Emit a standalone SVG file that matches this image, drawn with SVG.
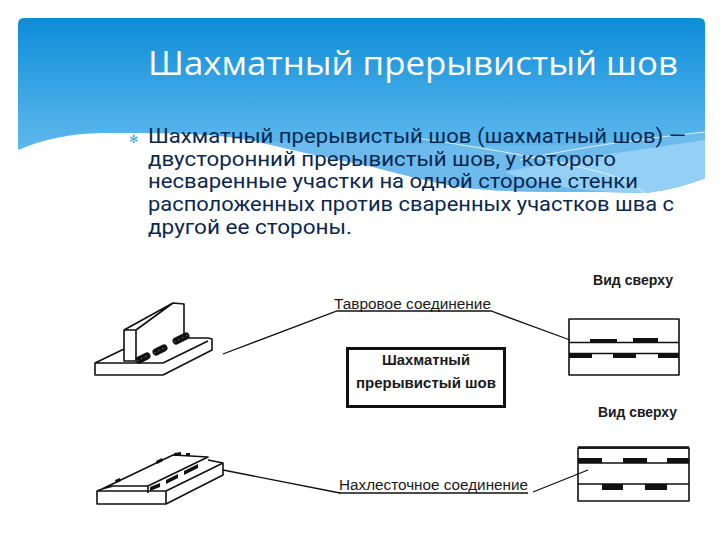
<svg xmlns="http://www.w3.org/2000/svg" width="720" height="540" viewBox="0 0 720 540">
<style>
.ln{fill:none;stroke:#111;stroke-width:1.6;stroke-linejoin:round}
.th{fill:none;stroke:#111;stroke-width:2.4}
.conn{fill:none;stroke:#111;stroke-width:1.3}
.bk{fill:#111;stroke:none}
.lb{font-family:"Liberation Sans",Arial,sans-serif;fill:#1a1a1a;font-size:14px}
.b{font-weight:700}
.body{font-family:Roboto,"Open Sans",sans-serif;font-size:19.4px;fill:#0a2850}
.wd{fill:none;stroke:#111;stroke-width:7;stroke-linecap:round}
.wd2{fill:none;stroke:#777;stroke-width:1;stroke-dasharray:1.500 3}
</style>
<defs>
<linearGradient id="g" x1="0" y1="0" x2="0" y2="1"><stop offset="0" stop-color="#0d8cd8"/><stop offset="0.5" stop-color="#45ace8"/><stop offset="1" stop-color="#7cc6f2"/></linearGradient>
<clipPath id="c"><path d="M24 18H699Q705 18 705 24V300H18V24Q18 18 24 18Z"/></clipPath>
</defs>
<rect width="720" height="540" fill="#fff"/>
<g id="header" clip-path="url(#c)">
<rect x="18" y="18" width="687" height="180" fill="url(#g)"/>
<path d="M18 150C50 137 75 133 110 133C170 133 220 133 263 143C300 152 340 160 369 166C400 174 430 182 460 187C520 195 590 190 645 193C670 190 690 184 705 178V200H18Z" fill="#fff"/>
<path d="M263 143C320 137 400 143 460 146C540 148 640 142 705 132V178C690 184 670 190 645 193C590 190 520 195 460 187C430 182 400 174 369 166C340 160 300 152 263 143Z" fill="#6dbbec"/>
<path d="M505 172C560 160 640 150 705 140V178C690 184 670 190 645 193C590 192 540 186 505 172Z" fill="#94d0f5"/>
<path d="M415 138C470 146 530 155 600 172C630 180 640 190 645 193M520 160C590 145 650 138 705 132" fill="none" stroke="#dff1fc" stroke-width="1"/>
</g>
<g id="title"><text x="148" y="75" font-family="'Open Sans','Noto Sans',sans-serif" font-size="33" fill="#fff" textLength="530" lengthAdjust="spacingAndGlyphs">Шахматный прерывистый шов</text></g>
<g id="body">
<text x="129" y="143" font-family="'DejaVu Sans',sans-serif" font-size="11" fill="#3fa3e0">✻</text>
<text class="body" x="148" y="143" textLength="538" lengthAdjust="spacingAndGlyphs">Шахматный прерывистый шов (шахматный шов) —</text>
<text class="body" x="148" y="165.500" textLength="468" lengthAdjust="spacingAndGlyphs">двусторонний прерывистый шов, у которого</text>
<text class="body" x="148" y="188" textLength="490" lengthAdjust="spacingAndGlyphs">несваренные участки на одной стороне стенки</text>
<text class="body" x="148" y="211" textLength="526" lengthAdjust="spacingAndGlyphs">расположенных против сваренных участков шва с</text>
<text class="body" x="148" y="233.500" textLength="204" lengthAdjust="spacingAndGlyphs">другой ее стороны.</text>
</g>
<g id="connectors">
<path class="conn" d="M223 354L337 311H491L570 340"/>
<path class="conn" d="M223 470L340 493"/>
<path class="conn" d="M533 492L588 470"/>
</g>
<g id="tee-joint">
<path class="ln" d="M95 363L124 349M184 338L208 338L212 339V350L163 375H95V363H163L208 341"/>
<path class="ln" d="M136 330L173 303L184 304V335M124 330L173 303M124 330H136V361H124Z"/>
<path class="wd" d="M139 360L147 356"/><path class="wd2" d="M137 361L149 355"/>
<path class="wd" d="M156 352L164 348"/><path class="wd2" d="M154 353L166 347"/>
<path class="wd" d="M176 341L186 336"/><path class="wd2" d="M174 342L188 335"/>
</g>
<g id="lap-joint">
<path class="ln" d="M97 491L102 489M97 491H166V504H97ZM166 504L223 475V463L208 460M166 491L223 463"/>
<path class="ln" d="M102 489L173 455L208 457L148 486H113L102 489M148 486V493"/>
<path class="bk" d="M150 491L150 487L160 483L160 487ZM166 484L166 480L178 474L178 478ZM184 475L184 471L198 464L198 468Z"/>
<path class="bk" d="M115 480l5-2 1 3-5 2ZM156 461l6-3 1 3-6 3ZM174 453l7-1v3l-7 1ZM186 453l4 0v3l-4 0Z"/>
</g>
<g id="center-box">
<rect x="347.500" y="348.500" width="157" height="58" fill="#fff" stroke="#111" stroke-width="3"/>
<text class="lb b" x="426" y="365" text-anchor="middle" textLength="88" lengthAdjust="spacingAndGlyphs">Шахматный</text>
<text class="lb b" x="426" y="388" text-anchor="middle" textLength="140" lengthAdjust="spacingAndGlyphs">прерывистый шов</text>
</g>
<g id="tee-label"><text class="lb" x="334" y="308.500" textLength="157" lengthAdjust="spacingAndGlyphs">Тавровое соединение</text></g>
<g id="lap-label"><text class="lb" x="339" y="490" textLength="189" lengthAdjust="spacingAndGlyphs">Нахлесточное соединение</text><path class="conn" d="M339 493H528"/></g>
<g id="top-view-1">
<text class="lb b" x="593" y="285" textLength="80" lengthAdjust="spacingAndGlyphs">Вид сверху</text>
<rect class="ln" x="569" y="319" width="110" height="56"/>
<path class="ln" d="M569 342.500H679M569 353.500H679"/>
<path class="bk" d="M590 339H617V343H590ZM633 338H658V343H633ZM569 353H592V358H569ZM613 353H636V358H613ZM658 353H679V358H658Z"/>
</g>
<g id="top-view-2">
<text class="lb b" x="598" y="417" textLength="79" lengthAdjust="spacingAndGlyphs">Вид сверху</text>
<rect class="ln" x="578" y="448" width="111" height="53"/>
<path class="th" d="M578 447.500H689"/>
<path class="ln" d="M578 463H689M578 484H689"/>
<path class="bk" d="M578 458H602V463H578ZM623 458H647V463H623ZM667 458H689V463H667ZM602 484H623V490H602ZM645 484H667V490H645Z"/>
</g>
</svg>
